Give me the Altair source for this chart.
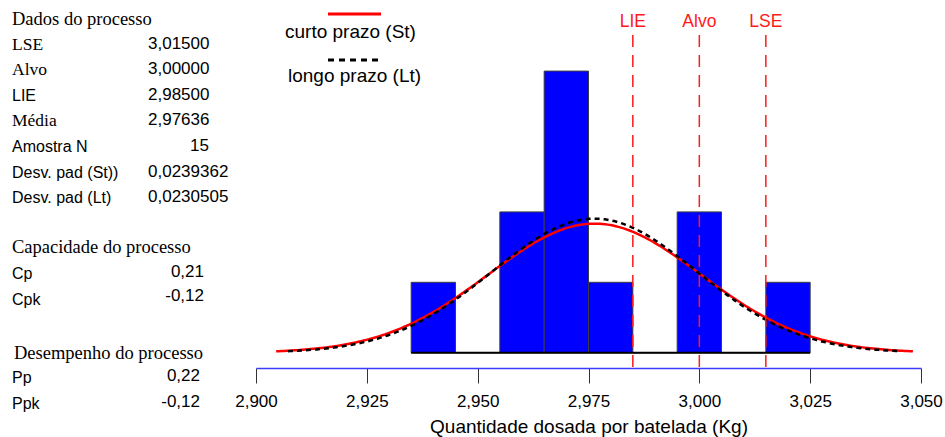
import altair as alt
import numpy as np
import pandas as pd

# ---- data ---------------------------------------------------------------
bin_lower = [2.935, 2.945, 2.955, 2.965, 2.975, 2.985, 2.995, 3.005, 3.015]
bin_counts = [1, 0, 2, 4, 1, 0, 2, 0, 1]
bin_width = 0.010

mean_value = 2.97636
sd_short = 0.0239362
sd_long = 0.0230505

spec_names = ["LIE", "Alvo", "LSE"]
spec_values = [2.985, 3.000, 3.015]

x_ticks = [2.900, 2.925, 2.950, 2.975, 3.000, 3.025, 3.050]

dados_labels = ["LSE", "Alvo", "LIE", "Média", "Amostra N", "Desv. pad (St))", "Desv. pad (Lt)"]
dados_values = ["3,01500", "3,00000", "2,98500", "2,97636", "15", "0,0239362", "0,0230505"]
cap_labels = ["Cp", "Cpk"]
cap_values = ["0,21", "-0,12"]
des_labels = ["Pp", "Ppk"]
des_values = ["0,22", "-0,12"]

# ---- layout -------------------------------------------------------------
LEFT, TOP = 256, 35
W, H = 665, 333
PX_PER_COUNT = 70.4
ZERO_FROM_TOP = 317.7
Y_MIN = -(H - ZERO_FROM_TOP) / PX_PER_COUNT
Y_MAX = ZERO_FROM_TOP / PX_PER_COUNT

SANS = "Liberation Sans"
SERIF = "Liberation Serif"
RED = "#ff1a1a"

xs = alt.Scale(domain=[2.900, 3.050], nice=False, zero=False)
ys = alt.Scale(domain=[Y_MIN, Y_MAX], nice=False, zero=False)

# one shared axis definition for every layer that uses the x scale
x_axis = alt.Axis(
    values=x_ticks,
    labelExpr="replace(format(datum.value, '.3f'), '.', ',')",
    title="Quantidade dosada por batelada (Kg)",
    grid=False,
    domainColor="#3b3bff", domainWidth=1.5,
    tickColor="#333333", tickSize=15, tickWidth=1,
    labelFont=SANS, labelFontSize=17, labelColor="black", labelPadding=10,
    labelFlush=False,
    titleFont=SANS, titleFontSize=19, titleFontWeight="normal", titleColor="black",
    titleBaseline="alphabetic", titleY=64,
)


def X(field):
    return alt.X(field, scale=xs, axis=x_axis, title="Quantidade dosada por batelada (Kg)")


def Y(field):
    return alt.Y(field, scale=ys, axis=None)


# ---- histogram ----------------------------------------------------------
bars_df = pd.DataFrame({
    "lo": bin_lower,
    "hi": [b + bin_width for b in bin_lower],
    "count": bin_counts,
    "base": [0] * len(bin_lower),
})

bars = alt.Chart(bars_df).mark_rect(fill="#0000ff", stroke="#3c3c3c", strokeWidth=1).encode(
    x=X("lo:Q"), x2="hi:Q", y=Y("count:Q"), y2="base:Q",
)

base_df = pd.DataFrame({"lo": [min(bin_lower)], "hi": [max(bin_lower) + bin_width], "base": [0]})
baseline = alt.Chart(base_df).mark_rule(color="black", strokeWidth=2).encode(
    x=X("lo:Q"), x2="hi:Q", y=Y("base:Q"),
)

# ---- fitted normal curves (mean +/- 3 sd, scaled to histogram counts) ----
total = sum(bin_counts)


def normal_curve(sd):
    xv = np.linspace(mean_value - 3 * sd, mean_value + 3 * sd, 241)
    yv = total * bin_width * np.exp(-0.5 * ((xv - mean_value) / sd) ** 2) / (sd * np.sqrt(2 * np.pi))
    return pd.DataFrame({"x": xv, "y": yv})


curve_st = alt.Chart(normal_curve(sd_short)).mark_line(color="#ff0000", strokeWidth=2.5).encode(
    x=X("x:Q"), y=Y("y:Q"),
)
curve_lt = alt.Chart(normal_curve(sd_long)).mark_line(
    color="black", strokeWidth=2.5, strokeDash=[5, 4]
).encode(
    x=X("x:Q"), y=Y("y:Q"),
)

# ---- specification limits --------------------------------------------
spec_df = pd.DataFrame({"name": spec_names, "value": spec_values})
spec_rules = alt.Chart(spec_df).mark_rule(color=RED, strokeDash=[12, 8], strokeWidth=1.5).encode(
    x=X("value:Q"), y=alt.value(0), y2=alt.value(H),
)
spec_text = alt.Chart(spec_df).mark_text(
    color=RED, font=SANS, fontSize=17.5, baseline="middle", align="center"
).encode(
    x=X("value:Q"), y=alt.value(22 - TOP), text="name:N",
)


# ---- free text helpers ---------------------------------------------------
def label(s, px, py, size, font, align="left", color="black"):
    return alt.Chart(pd.DataFrame({"t": [s]})).mark_text(
        font=font, fontSize=size, align=align, baseline="middle", color=color
    ).encode(x=alt.value(px - LEFT), y=alt.value(py - TOP), text="t:N")


def hline(x0, x1, py, color, width, dash=None):
    kw = dict(color=color, strokeWidth=width)
    if dash:
        kw["strokeDash"] = dash
    return alt.Chart(pd.DataFrame({"k": [0]})).mark_rule(**kw).encode(
        x=alt.value(x0 - LEFT), x2=alt.value(x1 - LEFT), y=alt.value(py - TOP)
    )


# legend
legend = [
    hline(328, 381, 14, "#ff0000", 3),
    label("curto prazo (St)", 285, 32, 19, SANS),
    hline(328, 381, 60, "black", 3, [6, 5]),
    label("longo prazo (Lt)", 288, 76, 19, SANS),
]

# side panel: process data, capability, performance
panel = [label("Dados do processo", 12, 19, 18.5, SERIF)]
serif_rows = {"LSE", "Alvo", "Média"}
for i, (lab, val) in enumerate(zip(dados_labels, dados_values)):
    py = 44.6 + 25.6 * i
    if lab in serif_rows:
        panel.append(label(lab, 12, py, 17.5, SERIF))
    else:
        panel.append(label(lab, 12, py, 16, SANS))
    if lab == "Amostra N":
        panel.append(label(val, 209, py - 1, 17, SANS, align="right"))
    else:
        panel.append(label(val, 148, py - 1, 17, SANS))

panel.append(label("Capacidade do processo", 12, 247, 18.5, SERIF))
for i, (lab, val) in enumerate(zip(cap_labels, cap_values)):
    py = 273.5 + 26.5 * i
    panel.append(label(lab, 12, py, 16, SANS))
    panel.append(label(val, 204, py - 2 - 2 * i, 17, SANS, align="right"))

panel.append(label("Desempenho do processo", 14, 353, 18.5, SERIF))
for i, (lab, val) in enumerate(zip(des_labels, des_values)):
    py = 378 + 26 * i
    panel.append(label(lab, 12, py, 16, SANS))
    panel.append(label(val, 200, py - 2, 17, SANS, align="right"))

chart = alt.layer(
    bars, baseline, curve_st, curve_lt, spec_rules, spec_text, *legend, *panel
).properties(
    width=W, height=H,
    autosize=alt.AutoSizeParams(type="none"),
    padding={"left": LEFT, "top": TOP, "right": 945 - LEFT - W, "bottom": 437 - TOP - H},
    background="white",
).configure_view(stroke=None)

chart.save("out.html", embed_options={"renderer": "svg", "actions": False})
